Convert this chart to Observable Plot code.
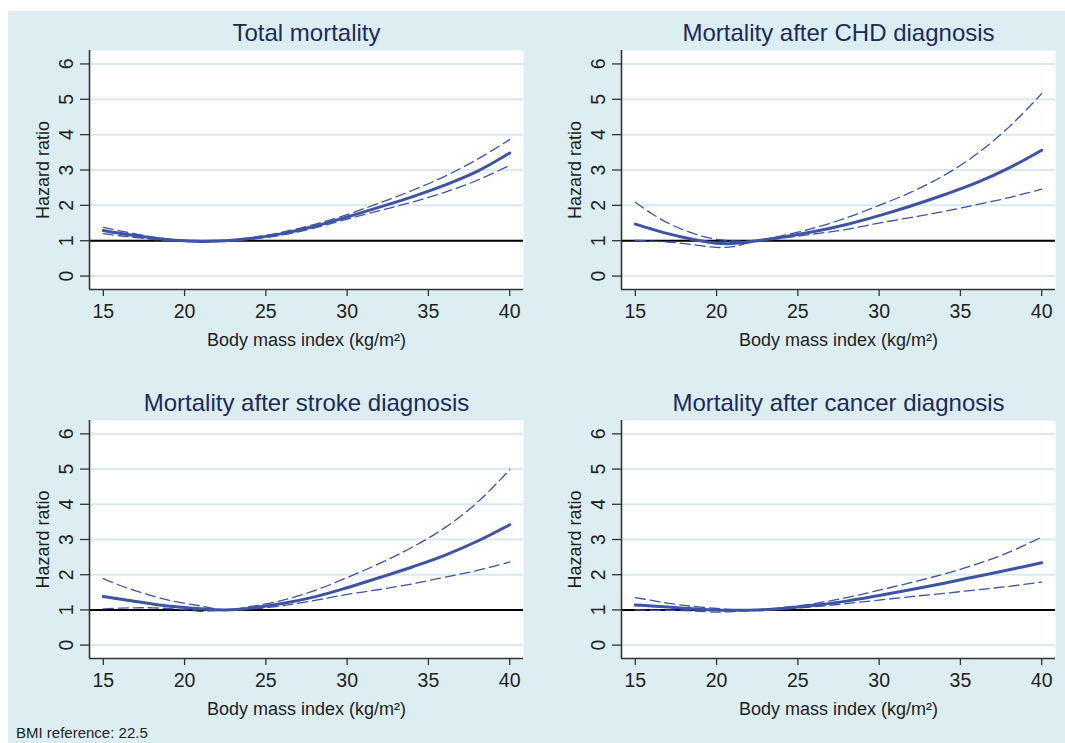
<!DOCTYPE html>
<html>
<head>
<meta charset="utf-8">
<script src="https://cdn.jsdelivr.net/npm/d3@7"></script>
<script src="https://cdn.jsdelivr.net/npm/@observablehq/plot@0.6"></script>
<style>
  html, body { margin: 0; padding: 0; background: #ffffff; }
  #page { position: relative; width: 1065px; height: 743px; overflow: hidden; background: #ffffff; }
  #bg { position: absolute; left: 8px; top: 11px; width: 1057px; height: 732px; background: #ddeef2; }
  .panel { position: absolute; }
  #caption { position: absolute; left: 16px; top: 724px; font-family: "Liberation Sans", Arial, sans-serif; font-size: 15px; color: #222; line-height: 18px; }
</style>
</head>
<body>
<div id="page">
  <div id="bg"></div>
  <div id="caption">BMI reference: 22.5</div>
</div>
<script>
// ---------------- data ----------------
const bmi = [15, 16, 17, 18, 19, 20, 21, 22.5, 24, 26, 28, 30, 32, 34, 36, 38, 40];

const titles = ["Total mortality", "Mortality after CHD diagnosis", "Mortality after stroke diagnosis", "Mortality after cancer diagnosis"];

const totalHR = [1.29, 1.21, 1.14, 1.08, 1.03, 1.00, 0.98, 1.00, 1.06, 1.20, 1.41, 1.67, 1.95, 2.24, 2.57, 2.96, 3.48];
const totalHi = [1.38, 1.28, 1.19, 1.11, 1.05, 1.01, 0.99, 1.00, 1.08, 1.24, 1.46, 1.74, 2.07, 2.42, 2.82, 3.30, 3.86];
const totalLo = [1.20, 1.14, 1.09, 1.04, 1.00, 0.98, 0.97, 1.00, 1.04, 1.16, 1.36, 1.61, 1.85, 2.09, 2.37, 2.71, 3.13];

const chdHR = [1.47, 1.33, 1.20, 1.09, 1.00, 0.93, 0.92, 1.00, 1.10, 1.26, 1.46, 1.71, 1.99, 2.30, 2.64, 3.06, 3.56];
const chdHi = [2.09, 1.77, 1.50, 1.30, 1.14, 1.04, 1.00, 1.00, 1.14, 1.36, 1.65, 2.00, 2.38, 2.85, 3.45, 4.22, 5.16];
const chdLo = [1.01, 0.99, 0.96, 0.92, 0.86, 0.81, 0.83, 1.00, 1.07, 1.19, 1.32, 1.50, 1.66, 1.83, 2.02, 2.22, 2.46];

const strokeHR = [1.38, 1.31, 1.24, 1.17, 1.11, 1.07, 1.03, 1.00, 1.05, 1.18, 1.37, 1.63, 1.92, 2.22, 2.55, 2.95, 3.42];
const strokeHi = [1.89, 1.70, 1.54, 1.40, 1.28, 1.19, 1.11, 1.00, 1.09, 1.27, 1.55, 1.92, 2.32, 2.78, 3.33, 4.05, 4.98];
const strokeLo = [1.03, 1.05, 1.06, 1.06, 1.04, 1.01, 0.96, 1.00, 1.02, 1.12, 1.27, 1.44, 1.58, 1.74, 1.93, 2.12, 2.36];

const cancerHR = [1.14, 1.11, 1.08, 1.05, 1.02, 1.00, 0.99, 1.00, 1.04, 1.13, 1.25, 1.41, 1.58, 1.76, 1.95, 2.14, 2.34];
const cancerHi = [1.35, 1.27, 1.19, 1.13, 1.08, 1.04, 1.01, 1.00, 1.06, 1.18, 1.35, 1.56, 1.78, 2.02, 2.30, 2.64, 3.07];
const cancerLo = [1.00, 0.99, 0.99, 0.98, 0.96, 0.94, 0.95, 1.00, 1.02, 1.09, 1.18, 1.28, 1.38, 1.47, 1.57, 1.67, 1.79];

const xTicks = [15, 20, 25, 30, 35, 40];
const yTicks = [0, 1, 2, 3, 4, 5, 6];
const refHR = 1;
const xLabel = "Body mass index (kg/m²)";
const yLabel = "Hazard ratio";

// ---------------- style ----------------
const FONT = "'Liberation Sans', Arial, Helvetica, sans-serif";
const BLUE = "#3c53a6";
const GRID = "#d8eaef";
const TITLE = "#1c2a5c";
const TEXT = "#222222";
const AXIS = "#333333";
const xDomain = [14.15, 40.85];
const yDomain = [-0.38, 6.38];
const ML = 85, MR = 8, MT = 45, MB = 80;
const TICK_FS = 19.5;

function series(arr) { return bmi.map((x, i) => ({x, y: arr[i]})); }

function panel(title, hr, lo, hi, fw, fh) {
  return Plot.plot({
    width: fw + ML + MR,
    height: fh + MT + MB,
    marginLeft: ML, marginRight: MR, marginTop: MT, marginBottom: MB,
    style: {background: "transparent", fontFamily: FONT, color: TEXT, fontSize: TICK_FS + "px"},
    x: {domain: xDomain, ticks: xTicks},
    y: {domain: yDomain, ticks: yTicks},
    marks: [
      Plot.frame({fill: "white", stroke: "none"}),
      Plot.ruleY(yTicks, {stroke: GRID, strokeWidth: 2}),
      Plot.ruleY([refHR], {stroke: "black", strokeWidth: 2}),
      Plot.line(series(lo), {x: "x", y: "y", stroke: BLUE, strokeWidth: 1.3, strokeDasharray: "10,5", curve: "catmull-rom"}),
      Plot.line(series(hi), {x: "x", y: "y", stroke: BLUE, strokeWidth: 1.3, strokeDasharray: "10,5", curve: "catmull-rom"}),
      Plot.line(series(hr), {x: "x", y: "y", stroke: BLUE, strokeWidth: 3, curve: "catmull-rom"}),
      Plot.ruleX([xDomain[0]], {stroke: AXIS, strokeWidth: 1.6}),
      Plot.ruleY([yDomain[0]], {stroke: AXIS, strokeWidth: 1.6}),
      Plot.axisX({ticks: xTicks, tickFormat: d => String(d), tickSize: 7, tickPadding: 8, fontSize: TICK_FS, label: null, stroke: AXIS, strokeWidth: 1.3}),
      Plot.axisY({ticks: yTicks, tickFormat: d => String(d), tickSize: 9, tickPadding: 8, tickRotate: -90, fontSize: TICK_FS, label: null, stroke: AXIS, strokeWidth: 1.3}),
      Plot.text([title], {text: d => d, frameAnchor: "top", dy: -17, lineAnchor: "middle", fontSize: 24, fill: TITLE}),
      Plot.text([xLabel], {text: d => d, frameAnchor: "bottom", dy: 51, lineAnchor: "middle", fontSize: 18, fill: TEXT}),
      Plot.text([yLabel], {text: d => d, frameAnchor: "left", dx: -46, rotate: -90, lineAnchor: "middle", textAnchor: "middle", fontSize: 18, fill: TEXT})
    ]
  });
}

const layout = [
  {i: 0, hr: totalHR, lo: totalLo, hi: totalHi, left: 89, top: 50, fw: 434, fh: 239},
  {i: 1, hr: chdHR, lo: chdLo, hi: chdHi, left: 621, top: 50, fw: 434, fh: 239},
  {i: 2, hr: strokeHR, lo: strokeLo, hi: strokeHi, left: 89, top: 420, fw: 434, fh: 238},
  {i: 3, hr: cancerHR, lo: cancerLo, hi: cancerHi, left: 621, top: 420, fw: 434, fh: 238}
];

const page = document.getElementById("page");
for (const p of layout) {
  const svg = panel(titles[p.i], p.hr, p.lo, p.hi, p.fw, p.fh);
  const wrap = document.createElement("div");
  wrap.className = "panel";
  wrap.style.left = (p.left - ML) + "px";
  wrap.style.top = (p.top - MT) + "px";
  wrap.appendChild(svg);
  page.appendChild(wrap);
}
</script>
</body>
</html>
